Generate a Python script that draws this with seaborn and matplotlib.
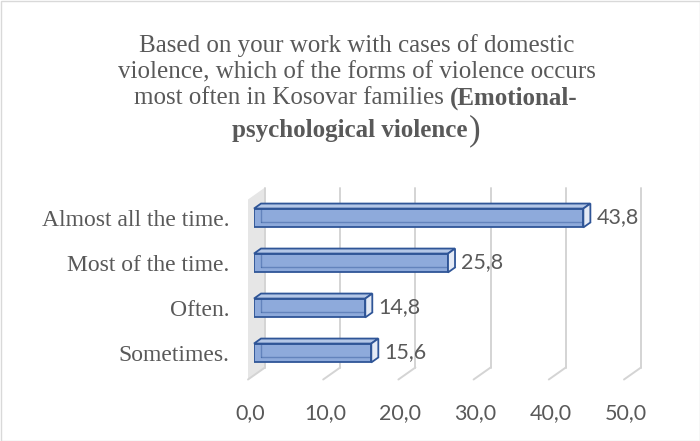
import matplotlib
matplotlib.use("Agg")
import matplotlib.pyplot as plt
import seaborn as sns
import pandas as pd
from matplotlib.patches import Polygon, Rectangle
from matplotlib.lines import Line2D
from matplotlib.transforms import ScaledTranslation

# ---------------- data ----------------
categories = ["Almost all the time.", "Most of the time.", "Often.", "Sometimes."]
values = [43.8, 25.8, 14.8, 15.6]
value_labels = ["43,8", "25,8", "14,8", "15,6"]
x_ticks = [0, 10, 20, 30, 40, 50]
x_tick_labels = ["0,0", "10,0", "20,0", "30,0", "40,0", "50,0"]
title_line1 = "Based on your work with cases of domestic"
title_line2 = "violence, which of the forms of violence occurs"
title_line3_normal = "most often in Kosovar families"
title_line3_bold = "(Emotional-"
title_line4_bold = "psychological violence"
title_line4_paren = ")"

# ---------------- style ----------------
sns.set_theme(style="white")
plt.rcParams['font.family'] = ['Liberation Serif', 'DejaVu Serif']
GRAY_TXT = "#595959"
FRONT = "#8EAADB"
TOP = "#B4C7E7"
END = "#E4EAF5"
EDGE = "#2F5597"
GRID = "#D4D4D4"
WALL = "#E6E6E6"
NUM_FONT = ['Lato', 'DejaVu Sans']
NUM_SIZE = 15.5
CAT_SIZE = 17
TSIZE = 18

W, H = 700, 441
fig = plt.figure(figsize=(W / 100, H / 100), dpi=100)
fig.patch.set_facecolor("white")
ax_left, ax_right, ax_top, ax_bottom = 254, 630, 195.5, 375.5
ax = fig.add_axes([ax_left / W, 1 - ax_bottom / H,
                   (ax_right - ax_left) / W, (ax_bottom - ax_top) / H])

df = pd.DataFrame({"category": categories, "value": values})
sns.barplot(data=df, x="value", y="category", orient="h", width=0.42,
            color=FRONT, edgecolor=EDGE, linewidth=1.3, saturation=1,
            ax=ax, zorder=4)
bars = list(ax.patches)

ax.set_xlim(0, 50)
ax.set_ylim(3.5, -0.5)
ax.set_facecolor("none")
for s in ax.spines.values():
    s.set_visible(False)
ax.grid(False)
ax.set_xlabel("")
ax.set_ylabel("")

ux = 50 / (ax_right - ax_left)
uy = 4 / (ax_bottom - ax_top)


def off(x, y, dxp, dyp):
    return (x + dxp * ux, y - dyp * uy)


# back wall at x = 0
ylo, yhi = 3.5, -0.5
wall = Polygon([off(0, ylo, -6, -4), off(0, yhi, -6, -4),
                off(0, yhi, 11, 8), off(0, ylo, 11, 8)],
               closed=True, fc=WALL, ec="none", zorder=1, clip_on=False)
ax.add_patch(wall)

# gridlines (back plane + floor)
for t in x_ticks:
    p1 = off(t, ylo, 11, 8)
    p2 = off(t, yhi, 11, 8)
    p3 = off(t, ylo, -6, -4)
    ax.add_line(Line2D([p1[0], p2[0]], [p1[1], p2[1]], color=GRID, lw=1.4,
                       zorder=2, clip_on=False))
    ax.add_line(Line2D([p1[0], p3[0]], [p1[1], p3[1]], color=GRID, lw=1.4,
                       zorder=2, clip_on=False))

# 3D faces of bars
for p, lab in zip(bars, value_labels):
    x0, y0, w, h = p.get_x(), p.get_y(), p.get_width(), p.get_height()
    x1 = x0 + w
    ytop, ybot = min(y0, y0 + h), max(y0, y0 + h)
    b0 = off(x0, ybot, 7, 5)
    b1 = off(x1, ybot, 7, 5)
    b2 = off(x0, ytop, 7, 5)
    ax.add_line(Line2D([b0[0], b1[0]], [b0[1], b1[1]], color=EDGE, lw=1.0,
                       alpha=0.45, zorder=5, clip_on=False))
    ax.add_line(Line2D([b2[0], b0[0]], [b2[1], b0[1]], color=EDGE, lw=1.0,
                       alpha=0.45, zorder=5, clip_on=False))
    top = Polygon([(x0, ytop), (x1, ytop), off(x1, ytop, 7, 5), off(x0, ytop, 7, 5)],
                  closed=True, fc=TOP, ec=EDGE, lw=1.3, zorder=5, clip_on=False)
    end = Polygon([(x1, ytop), (x1, ybot), off(x1, ybot, 7, 5), off(x1, ytop, 7, 5)],
                  closed=True, fc=END, ec=EDGE, lw=1.3, zorder=5, clip_on=False)
    ax.add_patch(top)
    ax.add_patch(end)
    lx, ly = off(x1, (ytop + ybot) / 2, 13, 1)
    ax.text(lx, ly, lab, ha="left", va="center", fontsize=NUM_SIZE,
            color=GRAY_TXT, family=NUM_FONT, zorder=6)

# axis ticks
ax.set_xticks(x_ticks)
ax.set_xticklabels(x_tick_labels)
ax.tick_params(axis="x", length=0, pad=20, labelsize=NUM_SIZE, labelcolor=GRAY_TXT)
for lbl in ax.get_xticklabels():
    lbl.set_family(NUM_FONT)
    lbl.set_transform(lbl.get_transform() + ScaledTranslation(-4 / 100, 0, fig.dpi_scale_trans))
ax.tick_params(axis="y", length=0, pad=18, labelsize=CAT_SIZE, labelcolor=GRAY_TXT)

# ---------------- title ----------------
renderer = fig.canvas.get_renderer()


def width_of(txt, **kw):
    t = fig.text(0, 0, txt, **kw)
    w = t.get_window_extent(renderer).width
    t.remove()
    return w


def draw_line(parts, base_px, cx_px):
    sp = width_of("x x", fontsize=TSIZE) - width_of("xx", fontsize=TSIZE)
    widths = [width_of(s, **kw) for s, kw in parts]
    total = sum(widths) + sp * (len(parts) - 1)
    x = cx_px - total / 2
    for (s, kw), w in zip(parts, widths):
        fig.text(x / W, 1 - base_px / H, s, ha="left", va="baseline",
                 color=GRAY_TXT, **kw)
        x += w + sp


draw_line([(title_line1, dict(fontsize=TSIZE))], 52, 357)
draw_line([(title_line2, dict(fontsize=TSIZE))], 78.5, 357)
draw_line([(title_line3_normal, dict(fontsize=TSIZE)),
           (title_line3_bold, dict(fontsize=TSIZE, fontweight="bold"))], 104.5, 356)
w_b = width_of(title_line4_bold, fontsize=TSIZE, fontweight="bold")
w_p = width_of(title_line4_paren, fontsize=TSIZE * 1.4)
x = 356 - (w_b + w_p) / 2
fig.text(x / W, 1 - 137 / H, title_line4_bold, ha="left", va="baseline",
         fontsize=TSIZE, fontweight="bold", color=GRAY_TXT)
fig.text((x + w_b + 1) / W, 1 - 139 / H, title_line4_paren, ha="left", va="baseline",
         fontsize=TSIZE * 1.4, color=GRAY_TXT)

# figure border
fig.patches.append(Rectangle((0.5 / W, 0.5 / H), 1 - 1 / W, 1 - 1 / H,
                             transform=fig.transFigure, fill=False,
                             ec="#D9D9D9", lw=1.0))

fig.savefig("out.png", dpi=100)
